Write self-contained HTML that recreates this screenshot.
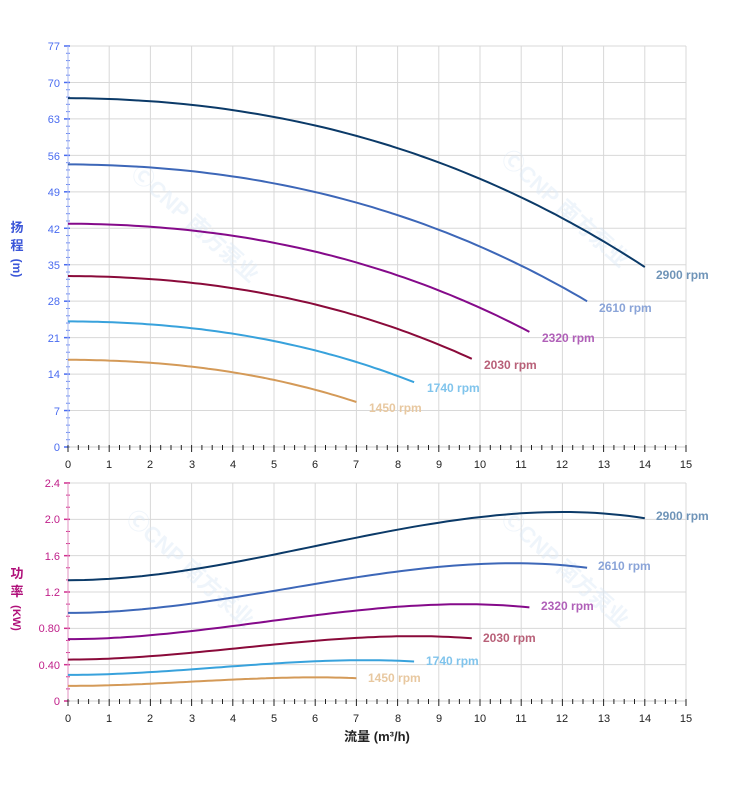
<!DOCTYPE html>
<html><head><meta charset="utf-8"><style>
html,body{margin:0;padding:0;background:#fff;}
svg{display:block;font-family:"Liberation Sans","Noto Sans CJK SC",sans-serif;}
</style></head><body>
<svg id="s" width="752" height="797" viewBox="0 0 752 797" xmlns="http://www.w3.org/2000/svg">
<g id="grid"></g>
<g fill="#dbe8f5" font-size="22" font-weight="bold" opacity="0.45">
<text transform="translate(130,175) rotate(42)">ⒸCNP 南方泵业</text>
<text transform="translate(500,160) rotate(42)">ⒸCNP 南方泵业</text>
<text transform="translate(125,520) rotate(42)">ⒸCNP 南方泵业</text>
<text transform="translate(500,520) rotate(42)">ⒸCNP 南方泵业</text>
</g>
<g id="curves" fill="none" stroke-width="2"></g>
<g font-size="11" fill="#4a6cf0" text-anchor="end">
<text x="60" y="50">77</text><text x="60" y="87">70</text><text x="60" y="123">63</text><text x="60" y="160">56</text><text x="60" y="196">49</text><text x="60" y="233">42</text><text x="60" y="269">35</text><text x="60" y="305">28</text><text x="60" y="342">21</text><text x="60" y="378">14</text><text x="60" y="415">7</text><text x="60" y="451">0</text>
</g>
<g font-size="11" fill="#c0208a" text-anchor="end">
<text x="60" y="487">2.4</text><text x="60" y="523">2.0</text><text x="60" y="560">1.6</text><text x="60" y="596">1.2</text><text x="60" y="632">0.80</text><text x="60" y="669">0.40</text><text x="60" y="705">0</text>
</g>
<g font-size="11" fill="#222" text-anchor="middle">
<text x="68" y="468">0</text><text x="109" y="468">1</text><text x="150" y="468">2</text><text x="192" y="468">3</text><text x="233" y="468">4</text><text x="274" y="468">5</text><text x="315" y="468">6</text><text x="356" y="468">7</text><text x="398" y="468">8</text><text x="439" y="468">9</text><text x="480" y="468">10</text><text x="521" y="468">11</text><text x="562" y="468">12</text><text x="604" y="468">13</text><text x="645" y="468">14</text><text x="686" y="468">15</text>
<text x="68" y="722">0</text><text x="109" y="722">1</text><text x="150" y="722">2</text><text x="192" y="722">3</text><text x="233" y="722">4</text><text x="274" y="722">5</text><text x="315" y="722">6</text><text x="356" y="722">7</text><text x="398" y="722">8</text><text x="439" y="722">9</text><text x="480" y="722">10</text><text x="521" y="722">11</text><text x="562" y="722">12</text><text x="604" y="722">13</text><text x="645" y="722">14</text><text x="686" y="722">15</text>
</g>
<text x="377" y="741" font-size="13" font-weight="bold" fill="#222" text-anchor="middle">流量 (m³/h)</text>
<g font-size="13" font-weight="bold" fill="#3a55d8" text-anchor="middle">
<text x="17" y="232">扬</text><text x="17" y="250">程</text>
<text transform="translate(13,268) rotate(90)" font-size="12" text-anchor="middle">(m)</text>
</g>
<g font-size="13" font-weight="bold" fill="#b0107a" text-anchor="middle">
<text x="17" y="578">功</text><text x="17" y="596">率</text>
<text transform="translate(13,618) rotate(90)" font-size="11" text-anchor="middle">(KW)</text>
</g>
<g font-size="12" font-weight="bold">
<text x="656" y="279" fill="#6f94b8">2900 rpm</text>
<text x="599" y="312" fill="#8aa4d8">2610 rpm</text>
<text x="542" y="342" fill="#b060b8">2320 rpm</text>
<text x="484" y="369" fill="#b86078">2030 rpm</text>
<text x="427" y="392" fill="#80c4ec">1740 rpm</text>
<text x="369" y="412" fill="#e8c8a0">1450 rpm</text>
<text x="656" y="520" fill="#6f94b8">2900 rpm</text>
<text x="598" y="570" fill="#8aa4d8">2610 rpm</text>
<text x="541" y="610" fill="#b060b8">2320 rpm</text>
<text x="483" y="642" fill="#b86078">2030 rpm</text>
<text x="426" y="665" fill="#80c4ec">1740 rpm</text>
<text x="368" y="682" fill="#e8c8a0">1450 rpm</text>
</g>
</svg>
<script>
(function(){
var NS="http://www.w3.org/2000/svg";
function el(p,t,a){var e=document.createElementNS(NS,t);for(var k in a)e.setAttribute(k,a[k]);document.getElementById(p).appendChild(e);}
var X=function(q){return 68+41.2*q;};
for(var i=0;i<=15;i++){el("grid","line",{x1:X(i),x2:X(i),y1:46,y2:447,stroke:"#d8d8d8","stroke-width":1});el("grid","line",{x1:X(i),x2:X(i),y1:483,y2:701,stroke:"#d8d8d8","stroke-width":1});}
for(var i=0;i<=11;i++){var y=447-i*401/11;el("grid","line",{x1:68,x2:686,y1:y,y2:y,stroke:"#d8d8d8","stroke-width":1});el("grid","line",{x1:64,x2:70,y1:y,y2:y,stroke:"#4a6cf0","stroke-width":1.5});
 if(i<11)for(var j=1;j<5;j++){var yy=y-j*401/55;el("grid","line",{x1:66,x2:70,y1:yy,y2:yy,stroke:"#6a88f0","stroke-width":1});}}
for(var i=0;i<=6;i++){var y=701-i*218/6;el("grid","line",{x1:68,x2:686,y1:y,y2:y,stroke:"#d8d8d8","stroke-width":1});el("grid","line",{x1:64,x2:70,y1:y,y2:y,stroke:"#d0308f","stroke-width":1.5});
 if(i<6)for(var j=1;j<3;j++){var yy=y-j*218/18;el("grid","line",{x1:66,x2:70,y1:yy,y2:yy,stroke:"#d0308f","stroke-width":1});}}
el("grid","line",{x1:68,x2:68,y1:46,y2:447,stroke:"#aab8f0","stroke-width":1});
el("grid","line",{x1:68,x2:68,y1:483,y2:701,stroke:"#e090c0","stroke-width":1});
[447,701].forEach(function(y0){el("grid","line",{x1:68,x2:686,y1:y0,y2:y0,stroke:"#ccc","stroke-width":1});
 for(var k=0;k<=60;k++){var x=X(k/4);el("grid","line",{x1:x,x2:x,y1:y0-2,y2:y0+(k%4==0?5:3),stroke:"#222","stroke-width":1});}});
function H(q){return 67-0.05*q-0.12*q*q-0.003*q*q*q;}
function P(q){return 1.33+0.01563*q*q-0.000868*q*q*q;}
var S=[[2900,"#0b3a68"],[2610,"#3d67b8"],[2320,"#850a8a"],[2030,"#8a0a3a"],[1740,"#38a2dc"],[1450,"#d49a58"]];
S.forEach(function(s){var r=s[0]/2900,d1="",d2="";
 for(var k=0;k<=70;k++){var Q=14*k/70,q=Q*r;var h=H(Q)*r*r,p=P(Q)*r*r*r;
  d1+=(k?"L":"M")+X(q).toFixed(1)+" "+(447-h*401/77).toFixed(1);
  d2+=(k?"L":"M")+X(q).toFixed(1)+" "+(701-p*218/2.4).toFixed(1);}
 el("curves","path",{d:d1,stroke:s[1]});el("curves","path",{d:d2,stroke:s[1]});});
})();
</script>
</body></html>
